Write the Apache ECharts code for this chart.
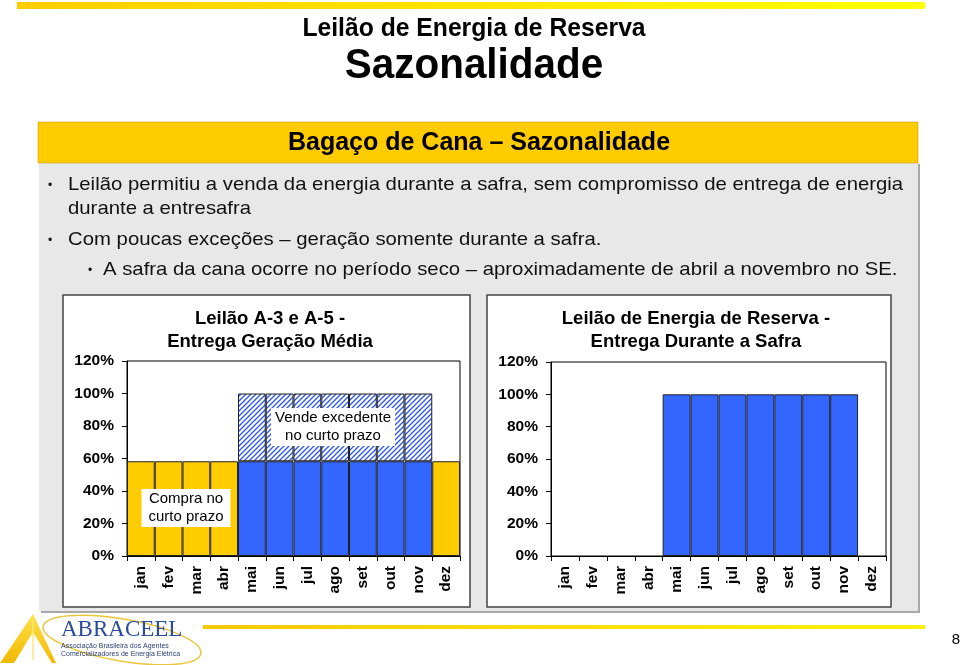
<!DOCTYPE html>
<html><head><meta charset="utf-8">
<script src="https://cdn.jsdelivr.net/npm/echarts@6/dist/echarts.min.js"></script>
<style>html,body{margin:0;padding:0;background:#fff}#c{width:960px;height:665px}</style>
</head><body><div id="c"></div>
<script>
// ---- data ----
const months = ['jan','fev','mar','abr','mai','jun','jul','ago','set','out','nov','dez'];
const safra = [false,false,false,false,true,true,true,true,true,true,true,false];
const avgDelivery = [58.3,58.3,58.3,58.3,58.3,58.3,58.3,58.3,58.3,58.3,58.3,58.3];
const excessSold = [0,0,0,0,41.7,41.7,41.7,41.7,41.7,41.7,41.7,0];
const reserveDelivery = [0,0,0,0,100,100,100,100,100,100,100,0];
const yMin = 0, yMax = 120, yStep = 20;
const titleLeft = 'Leilão A-3 e A-5 -\nEntrega Geração Média';
const titleRight = 'Leilão de Energia de Reserva -\nEntrega Durante a Safra';
const bullets = [
  'Leilão permitiu a venda da energia durante a safra, sem compromisso de entrega de energia',
  'durante a entresafra',
  'Com poucas exceções – geração somente durante a safra.',
  'A safra da cana ocorre no período seco – aproximadamente de abril a novembro no SE.'
];

const BLUE = '#3366FF', YEL = '#FFCC00';
const SANS = '"Liberation Sans", Arial, Helvetica, sans-serif';

// hatch pattern
const pc = document.createElement('canvas');
pc.width = 5; pc.height = 5;
const g = pc.getContext('2d');
g.fillStyle = '#fff'; g.fillRect(0,0,5,5);
g.strokeStyle = '#2a55e8'; g.lineWidth = 1.3;
g.beginPath();
g.moveTo(0,5); g.lineTo(5,0);
g.moveTo(-1,1); g.lineTo(1,-1);
g.moveTo(4,6); g.lineTo(6,4);
g.stroke();

const chart = echarts.init(document.getElementById('c'), null, {renderer:'canvas'});

function xAxis(idx){
  return {
    type:'category', gridIndex: idx, data: months,
    axisLine:{lineStyle:{color:'#000', width:1}},
    axisTick:{show:true, length:5, lineStyle:{color:'#000'}},
    axisLabel:{rotate:90, margin:10, color:'#000', fontFamily:SANS, fontWeight:'bold', fontSize:15.5}
  };
}
function yAxis(idx){
  return {
    type:'value', gridIndex: idx, min:yMin, max:yMax, interval:yStep,
    axisLine:{show:true, lineStyle:{color:'#000'}},
    axisTick:{show:true, length:5, lineStyle:{color:'#000'}},
    splitLine:{show:false},
    axisLabel:{formatter:'{value}%', margin:13, color:'#000', fontFamily:SANS, fontWeight:'bold', fontSize:15.5}
  };
}

function bulletLine(text, x, y){
  return {type:'text', z:-3, x:x, y:y, scaleX:1.07,
    style:{text:text, x:0, y:0, verticalAlign:'middle', font:'19px '+SANS, fill:'#111'}};
}
function dot(x, y){
  return {type:'text', z:-3, style:{text:'•', x:x, y:y, verticalAlign:'middle', font:'12px '+SANS, fill:'#111'}};
}

const titleStyle = {fontFamily:SANS, fontWeight:'bold', fontSize:18.5, lineHeight:23, color:'#000'};

chart.setOption({
  animation:false,
  backgroundColor:'#fff',
  title:[
    {text:titleLeft, left:265, top:302, textAlign:'center', textStyle:titleStyle},
    {text:titleRight, left:691, top:302, textAlign:'center', textStyle:titleStyle}
  ],
  grid:[
    {left:127, right:500, top:361, bottom:109, show:true, backgroundColor:'#fff', borderColor:'#000', borderWidth:1},
    {left:551, right:74, top:362, bottom:109, show:true, backgroundColor:'#fff', borderColor:'#000', borderWidth:1}
  ],
  xAxis:[xAxis(0), xAxis(1)],
  yAxis:[yAxis(0), yAxis(1)],
  series:[
    {type:'bar', xAxisIndex:0, yAxisIndex:0, stack:'a', barCategoryGap:0,
     data: avgDelivery.map((v,i)=>({value:v, itemStyle:{color: safra[i]?BLUE:YEL}})),
     itemStyle:{borderColor:'#222', borderWidth:1}},
    {type:'bar', xAxisIndex:0, yAxisIndex:0, stack:'a', barCategoryGap:0,
     data: excessSold.map(v=>v===0?null:v),
     itemStyle:{color:{image:pc, repeat:'repeat'}, borderColor:'#222', borderWidth:1}},
    {type:'bar', xAxisIndex:1, yAxisIndex:1, barCategoryGap:0,
     data: reserveDelivery.map(v=>v===0?null:v),
     itemStyle:{color:BLUE, borderColor:'#222', borderWidth:1}}
  ],
  graphic:[
    // top bar
    {type:'rect', z:-5, shape:{x:17,y:2,width:908,height:7},
     style:{fill:new echarts.graphic.LinearGradient(0,0,1,0,[{offset:0,color:'#FFCC00'},{offset:1,color:'#FFFF00'}])}},
    {type:'text', z:-5, x:474, y:29, scaleX:0.95,
     style:{text:'Leilão de Energia de Reserva', x:0, y:0, align:'center', verticalAlign:'middle',
      font:'bold 26px '+SANS, fill:'#000'}},
    {type:'text', z:-5, x:474, y:66, scaleX:0.94,
     style:{text:'Sazonalidade', x:0, y:0, align:'center', verticalAlign:'middle',
      font:'bold 43px '+SANS, fill:'#000'}},
    // panel
    {type:'rect', z:-6, shape:{x:41,y:164,width:879,height:449}, style:{fill:'#a8a8a8'}},
    {type:'rect', z:-5, shape:{x:39,y:163,width:879,height:448}, style:{fill:'#e8e8e8'}},
    {type:'rect', z:-4, shape:{x:38,y:122,width:880,height:41}, style:{fill:YEL, stroke:'#b8920a', lineWidth:0.5}},
    {type:'text', z:-3, x:479, y:143,
     style:{text:'Bagaço de Cana – Sazonalidade', x:0, y:0, align:'center', verticalAlign:'middle',
      font:'bold 25px '+SANS, fill:'#000'}},
    dot(48,186), bulletLine(bullets[0], 68, 185), bulletLine(bullets[1], 68, 209),
    dot(48,241), bulletLine(bullets[2], 68, 240),
    dot(88,271), bulletLine(bullets[3], 103, 270),
    // chart boxes
    {type:'rect', z:-3, shape:{x:63,y:295,width:407,height:312}, style:{fill:'#fff', stroke:'#444', lineWidth:1.5}},
    {type:'rect', z:-3, shape:{x:487,y:295,width:404,height:312}, style:{fill:'#fff', stroke:'#444', lineWidth:1.5}},
    // annotations
    {type:'text', z:100, style:{text:'Compra no\ncurto prazo', x:186, y:508, align:'center', verticalAlign:'middle',
      font:'15px '+SANS, fill:'#000', lineHeight:18, backgroundColor:'#fff', padding:[1,7]}},
    {type:'text', z:100, style:{text:'Vende excedente\nno curto prazo', x:333, y:427, align:'center', verticalAlign:'middle',
      font:'15px '+SANS, fill:'#000', lineHeight:18, backgroundColor:'#fff', padding:[1,4]}},
    // footer
    {type:'rect', z:-5, shape:{x:203,y:625,width:722,height:4},
     style:{fill:new echarts.graphic.LinearGradient(0,0,1,0,[{offset:0,color:'#F5C800'},{offset:1,color:'#FFF200'}])}},
    {type:'text', z:-5, style:{text:'8', x:960, y:640, align:'right', verticalAlign:'middle', font:'15px '+SANS, fill:'#000'}},
    // logo
    {type:'polygon', z:-5, shape:{points:[[33,614],[0,663],[14,663],[33,632],[52,663],[56,663]]},
     style:{fill:new echarts.graphic.LinearGradient(0,0,0,1,[{offset:0,color:'#FFE24A'},{offset:1,color:'#F2B800'}])}},
    {type:'polyline', z:-4, shape:{points:[[33,620],[33,660]]}, style:{stroke:'#FFE680', lineWidth:1.5}},
    {type:'ellipse', z:-5, rotation:-0.17, originX:122, originY:640,
     shape:{cx:122, cy:640, rx:80, ry:21}, style:{fill:'none', stroke:'#E8C640', lineWidth:1.5}},
    {type:'text', z:-4, style:{text:'ABRACEEL', x:61, y:630, verticalAlign:'middle',
      font:'23px "Liberation Serif", "DejaVu Serif", serif', fill:'#2B4C9B'}},
    {type:'text', z:-4, style:{text:'Associação Brasileira dos Agentes', x:61, y:646, verticalAlign:'middle',
      font:'7px '+SANS, fill:'#2B3F7A'}},
    {type:'text', z:-4, style:{text:'Comercializadores de Energia Elétrica', x:61, y:654, verticalAlign:'middle',
      font:'7px '+SANS, fill:'#2B3F7A'}}
  ]
});
</script></body></html>
